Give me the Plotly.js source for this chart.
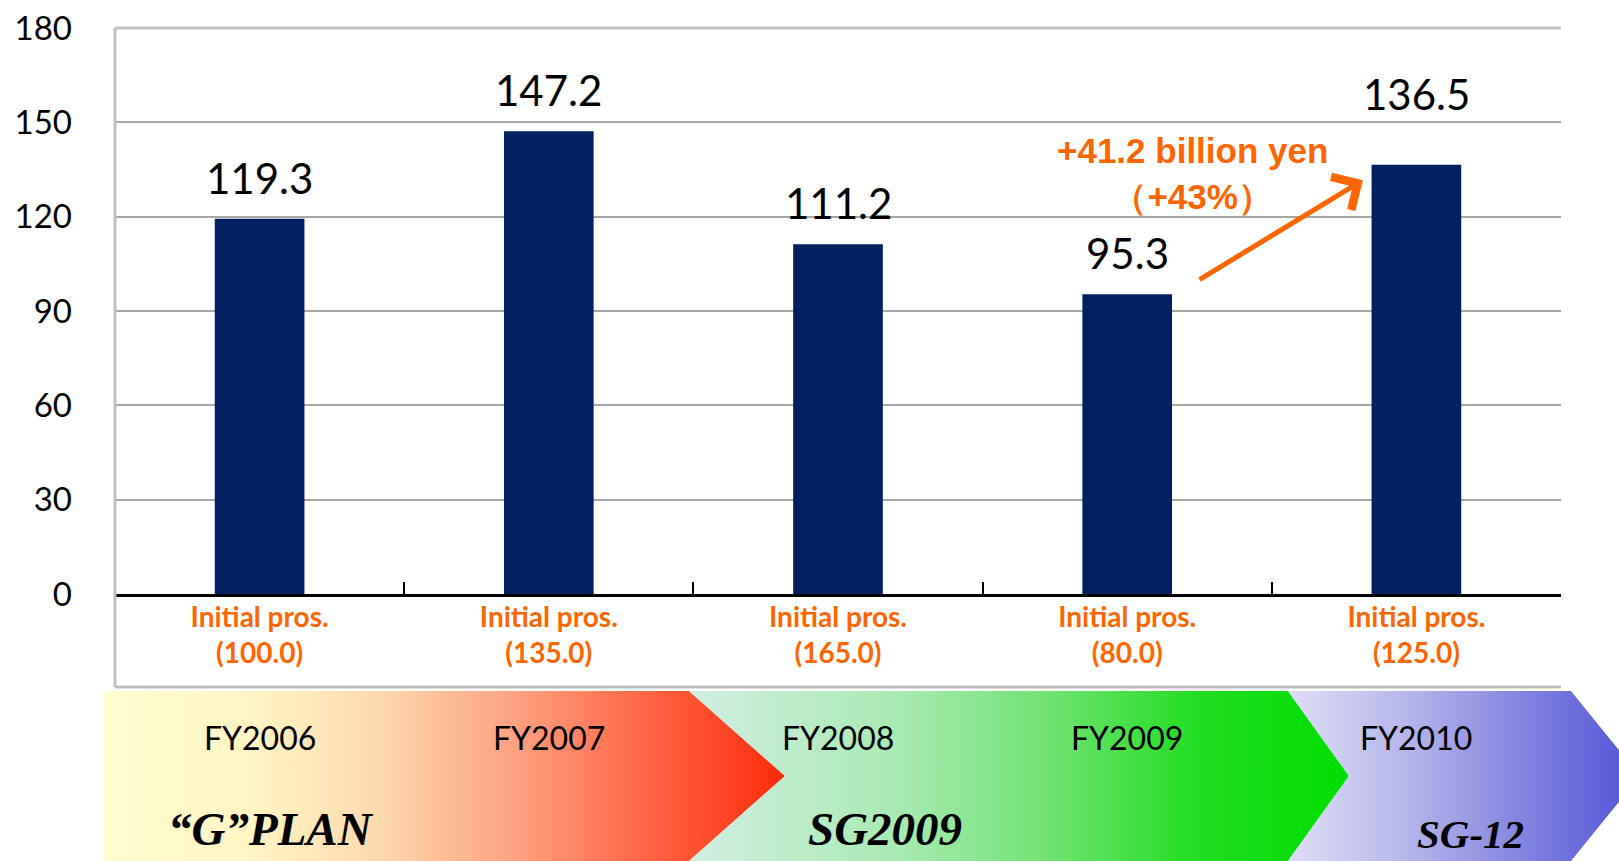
<!DOCTYPE html>
<html>
<head>
<meta charset="utf-8">
<script src="https://cdn.plot.ly/plotly-3.0.1.min.js"></script>
<style>html,body{margin:0;padding:0;background:#fff;}#chart{width:1619px;height:861px;}</style>
</head>
<body>
<div id="chart"></div>
<script>
// ---- data ----
const categories = ['FY2006', 'FY2007', 'FY2008', 'FY2009', 'FY2010'];
const values = [119.3, 147.2, 111.2, 95.3, 136.5];
const initialPros = [100.0, 135.0, 165.0, 80.0, 125.0];
const yTicks = [0, 30, 60, 90, 120, 150, 180];
const plans = ['\u201CG\u201DPLAN', 'SG2009', 'SG-12'];
const growthLabel = '+41.2 billion yen<br>\uFF08+43%\uFF09';

// ---- geometry helpers (pixel -> paper) ----
const W = 1619, H = 861;
const px = x => x / W;
const py = y => 1 - y / H;

const tickText = initialPros.map(v => 'Initial pros.<br>(' + v.toFixed(1) + ')');
const labelShift = [14, 14, 14, 14, 44];

const bars = {
  type: 'bar', x: categories, y: values, width: 0.31,
  marker: {color: '#002060', line: {width: 0}},
  xaxis: 'x', yaxis: 'y', hoverinfo: 'x+y'
};

// background band chevrons (decoration, pixel space on overlay axes)
function chevron(pts, stops) {
  return {
    type: 'scatter', mode: 'lines', xaxis: 'x2', yaxis: 'y2',
    x: pts.map(p => p[0]).concat([pts[0][0]]),
    y: pts.map(p => p[1]).concat([pts[0][1]]),
    fill: 'toself', line: {width: 0, color: 'rgba(0,0,0,0)'},
    fillgradient: {type: 'horizontal', colorscale: stops},
    hoverinfo: 'skip', showlegend: false
  };
}
const band1 = chevron([[104,691],[689,691],[785,776],[689,861],[104,861]],
  [[0,'#FFFDD2'],[0.21,'#FFF5C4'],[0.40,'#FDDAAE'],[0.58,'#FCA888'],[0.73,'#FF7A5A'],[1,'#FF2A0A']]);
const band2 = chevron([[689,691],[1288,691],[1349,776],[1288,861],[689,861],[785,776]],
  [[0,'#D2EEE2'],[0.32,'#A8EAB2'],[0.55,'#6FE270'],[0.77,'#22DD22'],[1,'#00DD00']]);
const band3 = chevron([[1288,691],[1571,691],[1640,776],[1571,861],[1288,861],[1349,776]],
  [[0,'#DEDEF6'],[0.32,'#B8B8EC'],[0.60,'#8E8EE2'],[0.94,'#5A5AD8'],[1,'#5555D6']]);

const annotations = [];
// value labels
categories.forEach((c, i) => {
  annotations.push({
    x: c, y: values[i], xref: 'x', yref: 'y', text: values[i].toFixed(1),
    showarrow: false, yanchor: 'bottom', yshift: labelShift[i],
    font: {family: 'Lato, sans-serif', size: 42, color: '#000'}
  });
  annotations.push({
    x: c, y: py(737), xref: 'x', yref: 'paper', text: c, showarrow: false,
    yanchor: 'middle', font: {family: 'Lato, sans-serif', size: 32, color: '#000'}
  });
});
// plan names
const planPos = [[271, 829], [885, 829], [1470, 834]];
const planSize = [47, 47, 41];
plans.forEach((p, i) => {
  annotations.push({
    x: px(planPos[i][0]), y: py(planPos[i][1]), xref: 'paper', yref: 'paper',
    text: '<b><i>' + p + '</i></b>', showarrow: false, xanchor: 'center', yanchor: 'middle',
    font: {family: '"Liberation Serif", "Times New Roman", serif', size: planSize[i], color: '#000'}
  });
});
// growth arrow
annotations.push({
  x: 3.815, y: 131.6, ax: 3.245, ay: 99.7, xref: 'x', yref: 'y', axref: 'x', ayref: 'y',
  text: '', showarrow: true, arrowhead: 4, arrowsize: 1.5, arrowwidth: 5,
  arrowcolor: '#FF6600', standoff: 0, startstandoff: 0
});
annotations.push({
  x: 3.227, y: 133.8, xref: 'x', yref: 'y', text: '<b>' + growthLabel + '</b>',
  showarrow: false, xanchor: 'center', yanchor: 'middle', align: 'center',
  font: {family: '"Liberation Sans", Arial, sans-serif', size: 35, color: '#FF6600'}
});

const layout = {
  width: W, height: H, margin: {l: 0, r: 0, t: 0, b: 0},
  paper_bgcolor: '#ffffff', plot_bgcolor: 'rgba(0,0,0,0)', showlegend: false,
  xaxis: {
    domain: [px(115), px(1561)], type: 'category', anchor: 'y',
    tickmode: 'array', tickvals: categories, ticktext: tickText,
    tickson: 'boundaries', ticks: 'inside', ticklen: 12, tickwidth: 2, tickcolor: '#000',
    showline: true, linecolor: '#000', linewidth: 3, showgrid: false,
    ticklabelstandoff: -4,
    tickfont: {family: 'Lato, sans-serif', size: 28, color: '#FF6600', weight: 'bold'},
    fixedrange: true
  },
  yaxis: {
    domain: [py(594), py(28)], range: [0, 180], anchor: 'x',
    tickmode: 'array', tickvals: yTicks, ticktext: yTicks.map(String),
    showgrid: true, gridcolor: '#A6A6A6', gridwidth: 2, zeroline: false, showline: false,
    ticks: '', ticklabelstandoff: 42,
    tickfont: {family: 'Lato, sans-serif', size: 33, color: '#000'},
    fixedrange: true
  },
  xaxis2: {domain: [0, 1], range: [0, W], anchor: 'y2', visible: false, fixedrange: true},
  yaxis2: {domain: [0, 1], range: [H, 0], anchor: 'x2', visible: false, fixedrange: true},
  shapes: [
    {type: 'line', xref: 'paper', yref: 'paper', x0: px(115), x1: px(115), y0: py(28), y1: py(687),
     line: {color: '#BFBFBF', width: 3}},
    {type: 'line', xref: 'paper', yref: 'paper', x0: px(115), x1: px(1561), y0: py(687), y1: py(687),
     line: {color: '#BFBFBF', width: 3}},
    {type: 'line', xref: 'paper', yref: 'paper', x0: px(115), x1: px(1561), y0: py(28), y1: py(28),
     line: {color: '#C4C4C4', width: 3}}
  ],
  annotations: annotations
};

Plotly.newPlot('chart', [band1, band2, band3, bars], layout, {displayModeBar: false, staticPlot: true});
</script>
</body>
</html>
